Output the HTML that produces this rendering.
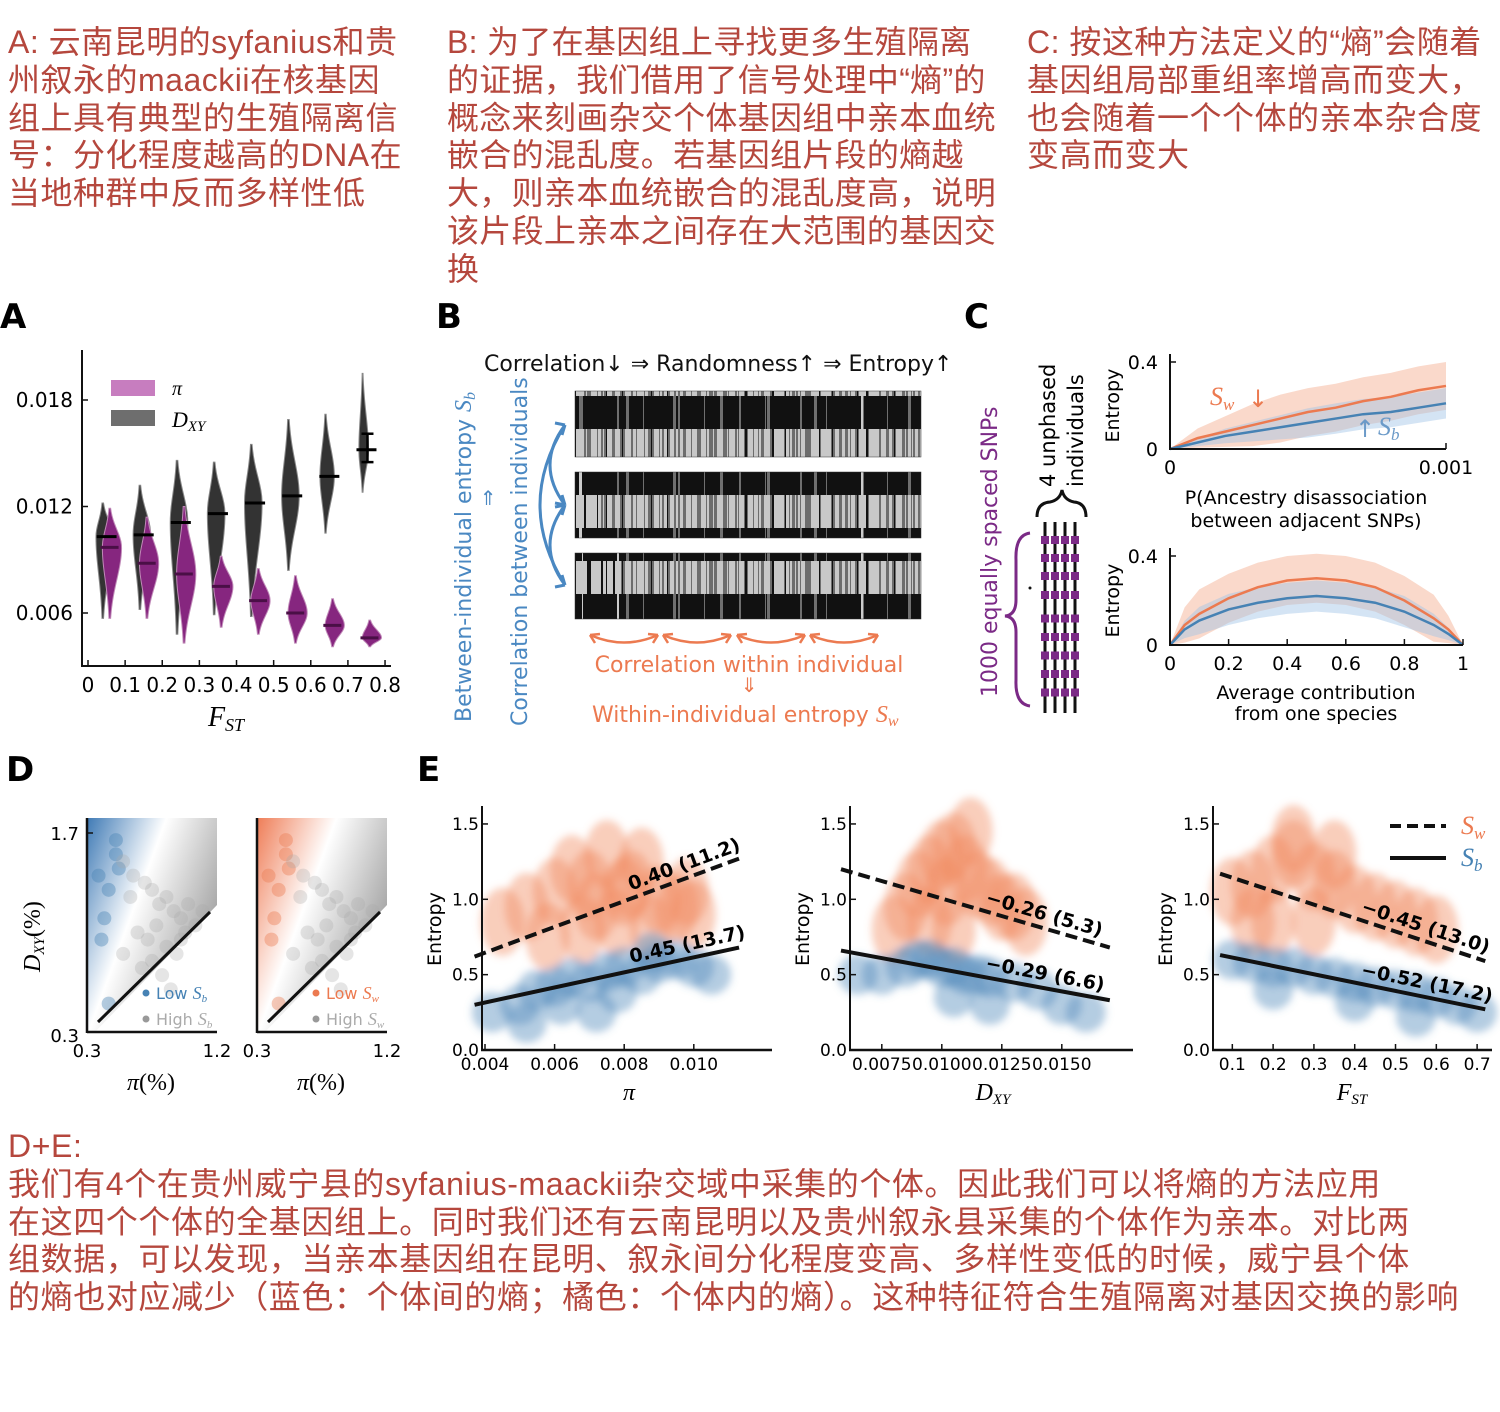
<!DOCTYPE html>
<html><head><meta charset="utf-8">
<style>
html,body{margin:0;padding:0;background:#fff;}
body{width:1500px;height:1412px;position:relative;overflow:hidden;font-family:"Liberation Sans","Noto Sans CJK SC",sans-serif;}
.cn{position:absolute;color:#b5473d;font-size:32px;line-height:37.8px;white-space:nowrap;font-family:"Liberation Sans","Noto Sans CJK SC",sans-serif;}
svg{position:absolute;left:0;top:0;}
svg text{font-family:"DejaVu Sans","Liberation Sans",sans-serif;}
.serif{font-family:"Liberation Serif",serif !important;font-style:italic;}
</style></head>
<body>
<div class="cn" style="left:8px;top:24px;letter-spacing:0.5px;">A: 云南昆明的syfanius和贵<br>州叙永的maackii在核基因<br>组上具有典型的生殖隔离信<br>号：分化程度越高的DNA在<br>当地种群中反而多样性低</div>
<div class="cn" style="left:447px;top:24px;letter-spacing:0.3px;">B: 为了在基因组上寻找更多生殖隔离<br>的证据，我们借用了信号处理中“熵”的<br>概念来刻画杂交个体基因组中亲本血统<br>嵌合的混乱度。若基因组片段的熵越<br>大，则亲本血统嵌合的混乱度高，说明<br>该片段上亲本之间存在大范围的基因交<br>换</div>
<div class="cn" style="left:1027px;top:24px;letter-spacing:0.5px;">C: 按这种方法定义的“熵”会随着<br>基因组局部重组率增高而变大，<br>也会随着一个个体的亲本杂合度<br>变高而变大</div>
<div class="cn" style="left:8px;top:1128px;font-size:32px;letter-spacing:0.6px;">D+E:<br>我们有4个在贵州威宁县的syfanius-maackii杂交域中采集的个体。因此我们可以将熵的方法应用<br>在这四个个体的全基因组上。同时我们还有云南昆明以及贵州叙永县采集的个体作为亲本。对比两<br>组数据，可以发现，当亲本基因组在昆明、叙永间分化程度变高、多样性变低的时候，威宁县个体<br>的熵也对应减少（蓝色：个体间的熵；橘色：个体内的熵）。这种特征符合生殖隔离对基因交换的影响</div>

<svg id="fig" width="1500" height="1412" viewBox="0 0 1500 1412">
<defs>
<filter id="blur3"><feGaussianBlur stdDeviation="4"/></filter>
<linearGradient id="gblue" x1="0" y1="0" x2="1" y2="0.6"><stop offset="0" stop-color="#3f7ab5"/><stop offset="0.45" stop-color="#fff"/><stop offset="1" stop-color="#9a9a9a"/></linearGradient>
<linearGradient id="gorg" x1="0" y1="0" x2="1" y2="0.6"><stop offset="0" stop-color="#ef7d57"/><stop offset="0.45" stop-color="#fff"/><stop offset="1" stop-color="#9a9a9a"/></linearGradient>
<pattern id="bc1" width="61" height="66" patternUnits="userSpaceOnUse">
<rect width="61" height="66" fill="#c8c8c8"/>
<rect x="0" y="0" width="61" height="33" fill="#111"/>
<rect x="7" y="0" width="2" height="33" fill="#ccc"/><rect x="33" y="0" width="1" height="33" fill="#ccc"/>
<rect x="3" y="33" width="2" height="33" fill="#111"/><rect x="12" y="33" width="3" height="33" fill="#111"/><rect x="26" y="33" width="1" height="33" fill="#111"/><rect x="38" y="33" width="4" height="33" fill="#111"/><rect x="52" y="33" width="2" height="33" fill="#111"/><rect x="57" y="33" width="1" height="33" fill="#111"/>
</pattern>
<pattern id="bc2" width="47" height="66" patternUnits="userSpaceOnUse">
<rect width="47" height="66" fill="#c8c8c8"/>
<rect x="0" y="0" width="47" height="33" fill="#111"/>
<rect x="15" y="0" width="3" height="33" fill="#ccc"/>
<rect x="1" y="33" width="1" height="33" fill="#111"/><rect x="9" y="33" width="3" height="33" fill="#111"/><rect x="20" y="33" width="2" height="33" fill="#111"/><rect x="33" y="33" width="1" height="33" fill="#111"/><rect x="40" y="33" width="3" height="33" fill="#111"/>
</pattern>
</defs>

<text x="0" y="328" font-size="34" font-weight="bold">A</text>
<text x="436" y="328" font-size="34" font-weight="bold">B</text>
<text x="964" y="328" font-size="34" font-weight="bold">C</text>
<text x="6" y="781" font-size="34" font-weight="bold">D</text>
<text x="417" y="781" font-size="34" font-weight="bold">E</text>

<g id="pa"></g>
<g id="pb"></g>
<g id="pc"></g>
<g id="pd"></g>
<g id="pe"></g>
</svg>

<script>
// ---------- Panel A data ----------
const aBins = [0.05,0.15,0.25,0.35,0.45,0.55,0.65,0.75];
const aDxyMean = [0.0103,0.0104,0.0111,0.0116,0.0122,0.0126,0.0137,0.0152];
const aDxyMin  = [0.0057,0.0062,0.0048,0.0059,0.0058,0.0084,0.0105,0.0128];
const aDxyMax  = [0.0122,0.0132,0.0146,0.0145,0.0155,0.0169,0.0172,0.0195];
const aPiMean  = [0.0097,0.0088,0.0082,0.0075,0.0067,0.0060,0.0053,0.0046];
const aPiMin   = [0.0057,0.0057,0.0043,0.0052,0.0048,0.0043,0.0041,0.0041];
const aPiMax   = [0.0119,0.0114,0.0120,0.0092,0.0085,0.0081,0.0068,0.0056];
const aYTicks = [0.006,0.012,0.018];
const aXTicks = [0,0.1,0.2,0.3,0.4,0.5,0.6,0.7,0.8];

// ---------- Panel C data ----------
const cTopX = [0,0.0001,0.0002,0.0003,0.0004,0.0005,0.0006,0.0007,0.0008,0.0009,0.001];
const cTopSw = [0,0.05,0.08,0.11,0.14,0.17,0.19,0.22,0.24,0.27,0.29];
const cTopSb = [0,0.03,0.06,0.08,0.10,0.12,0.14,0.16,0.17,0.19,0.21];
const cBotX = [0,0.05,0.1,0.2,0.3,0.4,0.5,0.6,0.7,0.8,0.9,0.95,1];
const cBotSw = [0,0.09,0.14,0.21,0.26,0.29,0.30,0.29,0.26,0.20,0.12,0.07,0];
const cBotSb = [0,0.07,0.11,0.16,0.19,0.21,0.22,0.21,0.19,0.15,0.09,0.05,0];

// ---------- Panel D data (pi%, dxy%, low entropy flag) ----------
const dPi  = [0.38,0.45,0.50,0.50,0.52,0.42,0.40,0.45,0.55,0.62,0.70,0.75,0.80,0.85,0.90,0.95,1.00,1.05,0.65,0.72,0.78,0.85,0.92,0.98,0.68,0.75,0.82,0.88,0.60,0.55,0.95,1.10];
const dDxy = [1.40,1.30,1.65,1.55,1.45,1.10,0.95,0.50,1.50,1.40,1.35,1.30,1.20,1.25,1.15,1.10,1.20,1.05,1.00,0.95,1.05,0.90,0.85,1.00,0.75,0.80,0.70,0.60,1.25,0.85,0.95,1.15];
const dLow = [1,1,1,1,1,1,1,1,0,0,0,0,0,0,0,0,0,0,0,0,0,0,0,0,0,0,0,0,0,0,0,0];

// ---------- Panel E data ----------
const e1SwX = [0.0045,0.0052,0.006,0.0065,0.007,0.0075,0.008,0.0085,0.009,0.0095,0.01,0.0068,0.0078,0.0088,0.0072,0.0082,0.0058,0.0098];
const e1SwY = [0.85,0.95,1.05,1.20,1.10,1.30,1.05,1.25,1.00,0.95,0.90,0.80,0.85,0.80,0.95,1.10,0.75,1.05];
const e1SbX = [0.0042,0.005,0.0055,0.006,0.0065,0.007,0.0075,0.008,0.0085,0.009,0.0095,0.01,0.0105,0.0062,0.0078,0.0088,0.0052,0.0072];
const e1SbY = [0.25,0.30,0.40,0.42,0.48,0.45,0.52,0.55,0.50,0.58,0.60,0.55,0.50,0.30,0.38,0.65,0.18,0.25];
const e2SwX = [0.0085,0.009,0.0095,0.01,0.0105,0.011,0.0115,0.012,0.0125,0.013,0.0135,0.0095,0.0105,0.0112,0.0102,0.008];
const e2SwY = [0.95,1.10,1.20,1.30,1.35,1.20,1.10,1.05,0.95,0.95,0.85,0.85,0.80,1.45,1.05,0.80];
const e2SbX = [0.0065,0.0075,0.0085,0.009,0.0095,0.01,0.0105,0.011,0.0115,0.012,0.013,0.014,0.015,0.0105,0.012,0.016];
const e2SbY = [0.50,0.50,0.55,0.60,0.60,0.55,0.55,0.50,0.50,0.48,0.45,0.40,0.30,0.35,0.30,0.25];
const e3SwX = [0.1,0.15,0.2,0.25,0.3,0.35,0.4,0.45,0.5,0.55,0.6,0.2,0.3,0.25,0.35,0.15];
const e3SwY = [1.05,1.10,1.20,1.30,1.15,1.10,1.00,0.95,0.90,0.85,0.80,0.85,0.85,1.40,1.30,0.85];
const e3SbX = [0.1,0.15,0.2,0.25,0.3,0.35,0.4,0.45,0.5,0.55,0.6,0.65,0.7,0.2,0.4,0.55];
const e3SbY = [0.60,0.58,0.55,0.55,0.50,0.48,0.45,0.42,0.40,0.38,0.35,0.30,0.25,0.40,0.32,0.22];
const eSwLine = [[0.0037,0.62,0.0113,1.27],[0.0058,1.20,0.0170,0.68],[0.07,1.17,0.72,0.59]];
const eSbLine = [[0.0037,0.30,0.0113,0.68],[0.0058,0.66,0.0170,0.33],[0.07,0.63,0.72,0.27]];
const eSwLabels = ["0.40 (11.2)","−0.26 (5.3)","−0.45 (13.0)"];
const eSbLabels = ["0.45 (13.7)","−0.29 (6.6)","−0.52 (17.2)"];
const eYTicks = [0.0,0.5,1.0,1.5];
const e1XTicks = [0.004,0.006,0.008,0.010];
const e2XTicks = [0.0075,0.0100,0.0125,0.0150];
const e3XTicks = [0.1,0.2,0.3,0.4,0.5,0.6,0.7];

const NS="http://www.w3.org/2000/svg";
function mk(parent,tag,attrs,txt){const e=document.createElementNS(NS,tag);for(const k in attrs)e.setAttribute(k,attrs[k]);if(txt!==undefined)e.textContent=txt;parent.appendChild(e);return e;}
const ORANGE="#ec7a50", BLUE="#4682b4";

// ================= Panel A =================
(function(){
  const g=document.getElementById('pa');
  const X=v=>88+v*371.3, Y=v=>613-(v-0.006)*17750;
  const l1=mk(g,'rect',{x:111,y:380,width:44,height:16,fill:'#c77dbf'});
  
  const l2=mk(g,'rect',{x:111,y:410,width:44,height:16,fill:'#6e6e6e'});
  
  mk(g,'text',{x:172,y:395,'font-size':20,class:'serif'},'π');
  const t=mk(g,'text',{x:172,y:427,'font-size':22,class:'serif'},'D');
  mk(t,'tspan',{'font-size':15,dy:4},'XY');
  function violin(cx,mean,mn,mx,w,fill,stroke,name){
    const pts=[];const n=30;
    const wd=v=>{const sd=(v<mean?(mean-mn):(mx-mean))/2.2;return w*Math.exp(-0.5*Math.pow((v-mean)/sd,2));};
    for(let i=0;i<=n;i++){const v=mn+(mx-mn)*i/n;pts.push([cx+wd(v),Y(v)]);}
    for(let i=n;i>=0;i--){const v=mn+(mx-mn)*i/n;pts.push([cx-wd(v)*0.6,Y(v)]);}
    const p=mk(g,'polygon',{points:pts.map(p=>p.join(',')).join(' '),fill:fill,stroke:stroke,'stroke-width':1});
    
  }
  aBins.forEach((b,i)=>{
    const cx=X(b)-4;
    violin(cx,aDxyMean[i],aDxyMin[i],aDxyMax[i],i<6?11:(i==6?9:6),'#333','#888','violin-dxy-'+i);
    violin(cx+7,aPiMean[i],aPiMin[i],aPiMax[i],12,'#86267f','#c08ab8','violin-pi-'+i);
    const m1=mk(g,'line',{x1:cx-6,x2:cx+14,y1:Y(aDxyMean[i]),y2:Y(aDxyMean[i]),stroke:'#000','stroke-width':3});
    
    const m2=mk(g,'line',{x1:cx-2,x2:cx+16,y1:Y(aPiMean[i]),y2:Y(aPiMean[i]),stroke:'#4a0f46','stroke-width':3});
    
  });
  mk(g,'line',{x1:X(0.75)+1,x2:X(0.75)+1,y1:Y(0.0161),y2:Y(0.0145),stroke:'#000','stroke-width':2.5});
  mk(g,'line',{x1:X(0.75)-5,x2:X(0.75)+7,y1:Y(0.0161),y2:Y(0.0161),stroke:'#000','stroke-width':2.5});
  mk(g,'line',{x1:X(0.75)-5,x2:X(0.75)+7,y1:Y(0.0145),y2:Y(0.0145),stroke:'#000','stroke-width':2.5});
  mk(g,'line',{x1:82,y1:350,x2:82,y2:667,stroke:'#111','stroke-width':2});
  mk(g,'line',{x1:81,y1:666,x2:391,y2:666,stroke:'#111','stroke-width':2});
  aYTicks.forEach(v=>{mk(g,'line',{x1:82,x2:88,y1:Y(v),y2:Y(v),stroke:'#111','stroke-width':1.5});
    mk(g,'text',{x:73,y:Y(v)+7,'font-size':20,'text-anchor':'end'},v.toFixed(3));});
  aXTicks.forEach(v=>{mk(g,'line',{x1:X(v),x2:X(v),y1:660,y2:666,stroke:'#111','stroke-width':1.5});
    mk(g,'text',{x:X(v),y:692,'font-size':20,'text-anchor':'middle'},String(v));});
  const xl=mk(g,'text',{x:226,y:726,'font-size':28,class:'serif','text-anchor':'middle'},'F');
  mk(xl,'tspan',{'font-size':18,dy:5},'ST');
})();

// ================= Panel B =================
(function(){
  const g=document.getElementById('pb');
  mk(g,'text',{x:484,y:371,'font-size':22,fill:'#111'},'Correlation↓ ⇒ Randomness↑ ⇒ Entropy↑');
  [391,472,553].forEach((y,i)=>{
    mk(g,'rect',{x:575,y:y,width:346,height:66,fill:'url(#bc'+(i%2+1)+')'});
    mk(g,'rect',{x:575+i*23,y:y,width:346-i*23,height:66,fill:'url(#bc'+((i+1)%2+1)+')',opacity:0.5});
    const r=mk(g,'rect',{x:575,y:y,width:346,height:66,fill:'none',stroke:'#333','stroke-width':0.5});
    
  });
  const arr=(d)=>mk(g,'path',{d:d,fill:'none',stroke:'#4a88c2','stroke-width':3});
  arr('M565,425 Q535,465 565,505');arr('M565,505 Q535,545 565,585');arr('M565,425 Q515,505 565,585');
  [[565,425,-1],[565,505,1],[565,505,-1],[565,585,1]].forEach(a=>{
    mk(g,'path',{d:`M${a[0]},${a[1]} l-10,${a[2]*2} M${a[0]},${a[1]} l-3,${-a[2]*10}`,stroke:'#4a88c2','stroke-width':3,fill:'none'});});
  const t1=mk(g,'text',{transform:'translate(471,722) rotate(-90)','font-size':22,fill:'#4a88c2'},'Between-individual entropy ');
  mk(t1,'tspan',{class:'serif','font-size':24},'S');mk(t1,'tspan',{class:'serif','font-size':16,dy:4},'b');
  mk(g,'text',{x:488,y:505,'font-size':20,fill:'#4a88c2','text-anchor':'middle'},'⇑');
  mk(g,'text',{transform:'translate(527,726) rotate(-90)','font-size':22,fill:'#4a88c2'},'Correlation between individuals');
  [590,663,737,810].forEach((x,i)=>{
    mk(g,'path',{d:`M${x},635 Q${x+34},650 ${x+68},635`,fill:'none',stroke:'#ec7a50','stroke-width':2.5});
    mk(g,'path',{d:`M${x},635 l10,-1 M${x},635 l5,8 M${x+68},635 l-10,-1 M${x+68},635 l-5,8`,fill:'none',stroke:'#ec7a50','stroke-width':2.5});
  });
  mk(g,'text',{x:749,y:672,'font-size':22,fill:'#ec7a50','text-anchor':'middle'},'Correlation within individual');
  mk(g,'text',{x:749,y:692,'font-size':20,fill:'#ec7a50','text-anchor':'middle'},'⇓');
  const t2=mk(g,'text',{x:592,y:722,'font-size':22,fill:'#ec7a50'},'Within-individual entropy ');
  mk(t2,'tspan',{class:'serif','font-size':24},'S');mk(t2,'tspan',{class:'serif','font-size':16,dy:4},'w');
})();

// ================= Panel C =================
(function(){
  const g=document.getElementById('pc');
  mk(g,'text',{transform:'translate(997,697) rotate(-90)','font-size':22,fill:'#7b2a86'},'1000 equally spaced SNPs');
  mk(g,'path',{d:'M1030,533 Q1015,535 1016,560 L1016,600 Q1016,615 1005,616 Q1016,617 1016,632 L1016,680 Q1015,704 1030,706',fill:'none',stroke:'#7b2a86','stroke-width':3});
  mk(g,'path',{d:'M1037,517 Q1037,503 1050,502 Q1060,500 1062,490 Q1064,500 1074,502 Q1086,503 1086,517',fill:'none',stroke:'#111','stroke-width':3});
  mk(g,'text',{transform:'translate(1055,487) rotate(-90)','font-size':21},'4 unphased');
  mk(g,'text',{transform:'translate(1083,487) rotate(-90)','font-size':21},'individuals');
  [1045,1055,1065,1075].forEach((x,i)=>{
    const l=mk(g,'line',{x1:x,x2:x,y1:522,y2:713,stroke:'#111','stroke-width':3});
    
    for(let k=0;k<9;k++){const yy=k<3?540+k*18:(k<4?595:600+(k-3)*18.5);mk(g,'rect',{x:x-4,y:yy-4,width:8,height:8,fill:'#7b2a86'});}
  });
  mk(g,'circle',{cx:1030,cy:588,r:1.5,fill:'#111'});
  function chart(ox,oy,w,h,xs,sw,sb,xmax,xticks,xlabels,name){
    const X=v=>ox+v/xmax*w, Y=v=>oy-v/0.4*h;
    const band=(arr,spread,fill)=>{let d='';arr.forEach((v,i)=>{d+=(i?'L':'M')+X(xs[i])+','+Y(v+spread*Math.min(1,v*8))});for(let i=arr.length-1;i>=0;i--)d+='L'+X(xs[i])+','+Y(Math.max(0,arr[i]-spread*Math.min(1,arr[i]*8)));mk(g,'path',{d:d+'Z',fill:fill});};
    band(sw,0.11,'rgba(244,170,140,0.45)');band(sb,0.07,'rgba(160,195,230,0.45)');
    const line=(arr,col,nm)=>{const p=mk(g,'polyline',{points:arr.map((v,i)=>X(xs[i])+','+Y(v)).join(' '),fill:'none',stroke:col,'stroke-width':2.5});};
    line(sw,ORANGE,name+'-sw-line');line(sb,BLUE,name+'-sb-line');
    mk(g,'line',{x1:ox,y1:oy-h-8,x2:ox,y2:oy+1,stroke:'#111','stroke-width':2});
    mk(g,'line',{x1:ox,y1:oy,x2:ox+w,y2:oy,stroke:'#111','stroke-width':2});
    mk(g,'line',{x1:ox,x2:ox+6,y1:oy-h,y2:oy-h,stroke:'#111','stroke-width':1.5});
    mk(g,'text',{x:ox-12,y:oy-h+7,'font-size':19,'text-anchor':'end'},'0.4');
    mk(g,'text',{x:ox-12,y:oy+7,'font-size':19,'text-anchor':'end'},'0');
    xticks.forEach((v,i)=>{mk(g,'line',{x1:X(v),x2:X(v),y1:oy-6,y2:oy,stroke:'#111','stroke-width':1.5});
      mk(g,'text',{x:X(v),y:oy+25,'font-size':19,'text-anchor':'middle'},xlabels[i]);});
    mk(g,'text',{transform:`translate(${ox-51},${oy-h/2+37}) rotate(-90)`,'font-size':19},'Entropy');
  }
  chart(1170,449,276,87,cTopX,cTopSw,cTopSb,0.001,[0,0.001],['0','0.001'],'c-top');
  chart(1170,645,293,89,cBotX,cBotSw,cBotSb,1,[0,0.2,0.4,0.6,0.8,1],['0','0.2','0.4','0.6','0.8','1'],'c-bottom');
  const s1=mk(g,'text',{x:1210,y:405,'font-size':26,fill:ORANGE,class:'serif'},'S');mk(s1,'tspan',{'font-size':17,dy:5},'w');
  mk(g,'text',{x:1248,y:407,'font-size':24,fill:ORANGE},'↓');
  mk(g,'text',{x:1355,y:437,'font-size':24,fill:'#6b9ac8'},'↑');
  const s2=mk(g,'text',{x:1378,y:435,'font-size':26,fill:'#6b9ac8',class:'serif'},'S');mk(s2,'tspan',{'font-size':17,dy:5},'b');
  mk(g,'text',{x:1306,y:504,'font-size':19,'text-anchor':'middle'},'P(Ancestry disassociation');
  mk(g,'text',{x:1306,y:527,'font-size':19,'text-anchor':'middle'},'between adjacent SNPs)');
  mk(g,'text',{x:1316,y:699,'font-size':19,'text-anchor':'middle'},'Average contribution');
  mk(g,'text',{x:1316,y:720,'font-size':19,'text-anchor':'middle'},'from one species');
})();

// ================= Panel D =================
(function(){
  const g=document.getElementById('pd');
  function sub(ox,grad,col,lbl,name){
    const w=130,top=818,bot=1032;
    const X=v=>ox+(v-0.3)/0.9*w, Y=v=>bot-(v-0.3)/1.4*(bot-top-15);
    const bg=mk(g,'polygon',{points:`${ox},${top} ${ox+w},${top} ${ox+w},${905} ${ox+8},${bot} ${ox},${bot}`,fill:'url(#'+grad+')'});
    
    dPi.forEach((p,i)=>{const c=mk(g,'circle',{cx:X(p),cy:Y(dDxy[i]),r:7,fill:dLow[i]?col:'#aaa',opacity:dLow[i]?0.4:0.3});
      });
    mk(g,'line',{x1:ox+11,y1:1022,x2:ox+123,y2:912,stroke:'#111','stroke-width':3});
    mk(g,'line',{x1:ox,y1:top,x2:ox,y2:bot+1,stroke:'#111','stroke-width':2.5});
    mk(g,'line',{x1:ox,y1:bot,x2:ox+w,y2:bot,stroke:'#111','stroke-width':2.5});
    mk(g,'circle',{cx:ox+59,cy:993,r:3.5,fill:col});
    const a=mk(g,'text',{x:ox+69,y:999,'font-size':16,fill:col},'Low ');mk(a,'tspan',{class:'serif','font-size':18},'S');mk(a,'tspan',{class:'serif','font-size':11,dy:3},lbl);
    mk(g,'circle',{cx:ox+59,cy:1019,r:3.5,fill:'#999'});
    const b=mk(g,'text',{x:ox+69,y:1025,'font-size':16,fill:'#aaa'},'High ');mk(b,'tspan',{class:'serif','font-size':18},'S');mk(b,'tspan',{class:'serif','font-size':11,dy:3},lbl);
    mk(g,'text',{x:ox,y:1057,'font-size':18,'text-anchor':'middle'},'0.3');
    mk(g,'text',{x:ox+w,y:1057,'font-size':18,'text-anchor':'middle'},'1.2');
    const xl=mk(g,'text',{x:ox+64,y:1090,'font-size':24,'text-anchor':'middle',class:'serif'},'π');mk(xl,'tspan',{style:'font-style:normal'},'(%)');
  }
  sub(87,'gblue',BLUE,'b','d-left');
  sub(257,'gorg',ORANGE,'w','d-right');
  mk(g,'line',{x1:87,x2:93,y1:833,y2:833,stroke:'#111','stroke-width':1.5});
  mk(g,'text',{x:79,y:840,'font-size':18,'text-anchor':'end'},'1.7');
  mk(g,'text',{x:79,y:1042,'font-size':18,'text-anchor':'end'},'0.3');
  const yl=mk(g,'text',{transform:'translate(40,972) rotate(-90)','font-size':24,class:'serif'},'D');
  mk(yl,'tspan',{'font-size':15,dy:4},'XY');mk(yl,'tspan',{'font-size':24,dy:-4,style:'font-style:normal'},'(%)');
})();

// ================= Panel E =================
(function(){
  const g=document.getElementById('pe');
  const Y=v=>1050-v*150.7;
  function sub(ox,right,xmin,xscale,xticks,fmt,swx,swy,sbx,sby,li,name){
    const X=v=>ox+(v-xmin)*xscale;
    const cl=mk(g,'g',{filter:'url(#blur3)'});
    swx.forEach((x,i)=>{const e=mk(cl,'ellipse',{cx:X(x),cy:Y(swy[i]),rx:22,ry:34,fill:'#f08a60',opacity:0.42});
      });
    sbx.forEach((x,i)=>{const e=mk(cl,'ellipse',{cx:X(x),cy:Y(sby[i]),rx:20,ry:20,fill:'#4f88bb',opacity:0.42});
      });
    const sw=eSwLine[li], sb=eSbLine[li];
    const d1=mk(g,'line',{x1:X(sw[0]),y1:Y(sw[1]),x2:X(sw[2]),y2:Y(sw[3]),stroke:'#111','stroke-width':4,'stroke-dasharray':'12,6'});
    
    const d2=mk(g,'line',{x1:X(sb[0]),y1:Y(sb[1]),x2:X(sb[2]),y2:Y(sb[3]),stroke:'#111','stroke-width':4});
    
    const ang1=Math.atan2(Y(sw[3])-Y(sw[1]),X(sw[2])-X(sw[0]))*180/Math.PI;
    const ang2=Math.atan2(Y(sb[3])-Y(sb[1]),X(sb[2])-X(sb[0]))*180/Math.PI;
    const lx=X(sw[2])-(li==0?108:125), ly=Y(sw[1]+(sw[3]-sw[1])*((lx-X(sw[0]))/(X(sw[2])-X(sw[0]))))-8;
    mk(g,'text',{x:lx,y:ly,'font-size':19,'font-weight':'bold',transform:`rotate(${ang1} ${lx} ${ly})`},eSwLabels[li]);
    const lx2=X(sb[2])-(li==0?108:125), ly2=Y(sb[1]+(sb[3]-sb[1])*((lx2-X(sb[0]))/(X(sb[2])-X(sb[0]))))-8;
    mk(g,'text',{x:lx2,y:ly2,'font-size':19,'font-weight':'bold',transform:`rotate(${ang2} ${lx2} ${ly2})`},eSbLabels[li]);
    mk(g,'line',{x1:ox-3,y1:806,x2:ox-3,y2:1051,stroke:'#111','stroke-width':2});
    mk(g,'line',{x1:ox-4,y1:1050,x2:right,y2:1050,stroke:'#111','stroke-width':2.5});
    eYTicks.forEach(v=>{mk(g,'line',{x1:ox-3,x2:ox+3,y1:Y(v),y2:Y(v),stroke:'#111','stroke-width':1.5});
      mk(g,'text',{x:ox-6,y:Y(v)+6,'font-size':17,'text-anchor':'end'},v.toFixed(1));});
    xticks.forEach(v=>{mk(g,'line',{x1:X(v),x2:X(v),y1:1044,y2:1050,stroke:'#111','stroke-width':1.5});
      mk(g,'text',{x:X(v),y:1070,'font-size':17,'text-anchor':'middle'},fmt(v));});
    mk(g,'text',{transform:`translate(${ox-44},966) rotate(-90)`,'font-size':19},'Entropy');
  }
  sub(485,772,0.004,34800,e1XTicks,v=>v.toFixed(3),e1SwX,e1SwY,e1SbX,e1SbY,0,'e-pi');
  sub(853,1133,0.0063,24000,e2XTicks,v=>v.toFixed(4),e2SwX,e2SwY,e2SbX,e2SbY,1,'e-dxy');
  sub(1216,1492,0.06,408,e3XTicks,v=>v.toFixed(1),e3SwX,e3SwY,e3SbX,e3SbY,2,'e-fst');
  mk(g,'text',{x:629,y:1100,'font-size':24,'text-anchor':'middle',class:'serif'},'π');
  const a=mk(g,'text',{x:993,y:1100,'font-size':24,'text-anchor':'middle',class:'serif'},'D');mk(a,'tspan',{'font-size':15,dy:4},'XY');
  const b=mk(g,'text',{x:1352,y:1100,'font-size':24,'text-anchor':'middle',class:'serif'},'F');mk(b,'tspan',{'font-size':15,dy:4},'ST');
  const lg1=mk(g,'line',{x1:1390,x2:1446,y1:826,y2:826,stroke:'#111','stroke-width':4,'stroke-dasharray':'11,6'});
  
  const lg2=mk(g,'line',{x1:1390,x2:1446,y1:858,y2:858,stroke:'#111','stroke-width':4});
  
  const s1=mk(g,'text',{x:1461,y:834,'font-size':26,fill:ORANGE,class:'serif'},'S');mk(s1,'tspan',{'font-size':17,dy:5},'w');
  const s2=mk(g,'text',{x:1461,y:866,'font-size':26,fill:BLUE,class:'serif'},'S');mk(s2,'tspan',{'font-size':17,dy:5},'b');
})();
</script>
</body></html>
